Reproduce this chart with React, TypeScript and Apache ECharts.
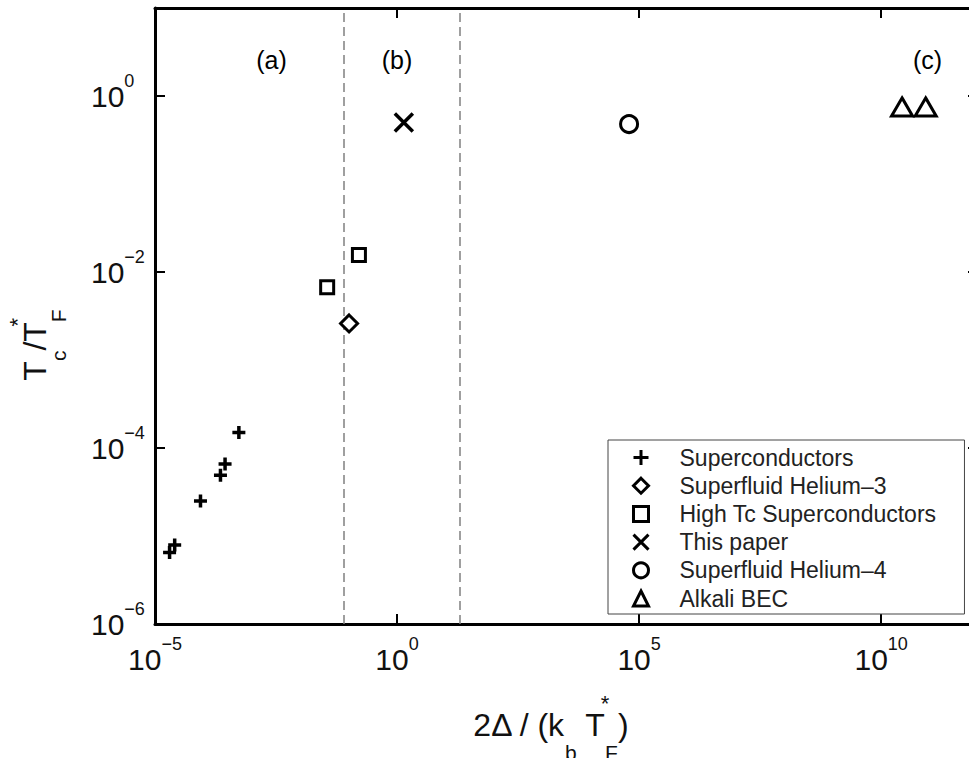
import React, { useEffect, useRef } from "react";
import * as echarts from "echarts";

// ---- data ----
const seriesNames = [
  "Superconductors",
  "Superfluid Helium\u20133",
  "High Tc Superconductors",
  "This paper",
  "Superfluid Helium\u20134",
  "Alkali BEC",
];
const superconductorsX = [5.4e-4, 2.8e-4, 2.25e-4, 8.7e-5, 2.55e-5, 2.0e-5];
const superconductorsY = [1.5e-4, 6.6e-5, 4.9e-5, 2.5e-5, 7.9e-6, 6.5e-6];
const helium3X = [0.102];
const helium3Y = [2.6e-3];
const highTcX = [0.163, 0.036];
const highTcY = [0.0156, 6.7e-3];
const thisPaperX = [1.38];
const thisPaperY = [0.5];
const helium4X = [6.2e4];
const helium4Y = [0.48];
const alkaliX = [2.7e10, 8.3e10];
const alkaliY = [0.75, 0.75];
const regionBoundariesX = [0.08, 20];
const panelLabels = ["(a)", "(b)", "(c)"];
const panelLabelX = [2.55e-3, 1.0, 9.1e10];
const panelLabelY = [2.57, 2.57, 2.57];
const xTickExponents = [-5, 0, 5, 10];
const yTickExponents = [-6, -4, -2, 0];

const FONT = "'Liberation Sans', Arial, Helvetica, sans-serif";
const INK = "#111";

const expLabel = (allowed: number[]) => (v: number) => {
  const e = Math.round(Math.log10(v));
  if (allowed.indexOf(e) < 0) return "";
  return `{b|10}{s|${e < 0 ? "\u2212" + -e : String(e)}}`;
};

const tickRich = {
  b: { fontFamily: FONT, fontSize: 30, lineHeight: 30, color: INK, verticalAlign: "middle" },
  s: { fontFamily: FONT, fontSize: 18, lineHeight: 18, color: INK, verticalAlign: "middle", padding: [0, 0, 30, 0] },
};

const titleRich = (sub: number, star: number) => ({
  m: { fontFamily: FONT, fontSize: 32, lineHeight: 32, color: INK, verticalAlign: "middle" },
  sub: { fontFamily: FONT, fontSize: 21, lineHeight: 21, color: INK, verticalAlign: "middle", padding: [sub, 0, 0, 0] },
  star: { fontFamily: FONT, fontSize: 22, lineHeight: 22, color: INK, verticalAlign: "middle", width: 0, padding: [0, 0, star, 0] },
});

const PLUS = "path://M5,0L5,10M0,5L10,5";
const CROSS = "path://M0,0L10,10M10,0L0,10";

const axisLineStyle = { color: "#000", width: 3 };
const tickStyle = { show: true, inside: true, length: 10, lineStyle: { color: "#000", width: 2 } };

function scatter(name: string, xs: number[], ys: number[], symbol: string, size: any, bw = 3) {
  return {
    type: "scatter",
    name,
    data: xs.map((x, i) => [x, ys[i]]),
    symbol,
    symbolSize: size,
    itemStyle: { color: "#fff", borderColor: "#000", borderWidth: bw, opacity: 1 },
    emphasis: { disabled: true },
    silent: true,
    z: 5,
  };
}

export default function App() {
  const ref = useRef<HTMLDivElement>(null);
  useEffect(() => {
    if (!ref.current) return;
    const chart = echarts.init(ref.current, undefined, { renderer: "svg" });
    const xCommon = {
      type: "log",
      logBase: 10,
      min: 1e-5,
      max: 1e12,
      interval: 5,
      axisLine: { show: true, lineStyle: axisLineStyle },
      axisTick: tickStyle,
      minorTick: { show: false },
      splitLine: { show: false },
    };
    const yCommon = {
      type: "log",
      logBase: 10,
      min: 1e-6,
      max: 10,
      interval: 2,
      axisLine: { show: true, lineStyle: axisLineStyle },
      axisTick: tickStyle,
      minorTick: { show: false },
      splitLine: { show: false },
    };
    chart.setOption({
      animation: false,
      backgroundColor: "#fff",
      grid: { left: 155, top: 8, right: -9, bottom: 134, containLabel: false, outerBoundsMode: "none" },
      xAxis: [
        {
          ...xCommon,
          position: "bottom",
          axisLabel: { show: true, margin: 20, formatter: expLabel(xTickExponents), rich: tickRich },
          name: "{m|2\u0394 / (k}{sub|b}{m| T}{star|*}{sub|F}{m|)}",
          nameLocation: "middle",
          nameGap: 67,
          nameTextStyle: { rich: titleRich(54, 44), padding: [0, 32, 0, 0] },
        },
        { ...xCommon, position: "top", axisLabel: { show: false } },
      ],
      yAxis: [
        {
          ...yCommon,
          position: "left",
          axisLabel: { show: true, margin: 64, align: "left", formatter: expLabel(yTickExponents), rich: tickRich },
          name: "{m|T}{sub|c}{m|/T}{star|*}{sub|F}",
          nameLocation: "middle",
          nameRotate: 90,
          nameGap: 104,
          nameTextStyle: { rich: titleRich(46, 36), padding: [0, 58, 0, 0] },
        },
        { ...yCommon, position: "right", axisLabel: { show: false } },
      ],
      legend: {
        data: seriesNames,
        orient: "vertical",
        left: 608,
        top: 440,
        padding: [6, 28, 4, 24],
        itemWidth: 15,
        itemHeight: 15,
        itemGap: 5.2,
        backgroundColor: "#fff",
        borderColor: "#444",
        borderWidth: 1,
        selectedMode: false,
        textStyle: { fontFamily: FONT, fontSize: 23, lineHeight: 23, color: "#222", padding: [0, 0, 0, 26] },
        itemStyle: { color: "#fff", borderColor: "#000", borderWidth: 3 },
        z: 10,
      },
      series: [
        {
          type: "scatter",
          name: "boundaries",
          data: [],
          silent: true,
          z: 1,
          markLine: {
            silent: true,
            symbol: ["none", "none"],
            label: { show: false },
            lineStyle: { color: "#808080", width: 1.5, type: [9, 5] },
            emphasis: { disabled: true },
            data: regionBoundariesX.map((x) => ({ xAxis: x })),
          },
        },
        {
          type: "scatter",
          name: "panels",
          data: panelLabelX.map((x, i) => [x, panelLabelY[i], panelLabels[i]]),
          symbolSize: 1,
          itemStyle: { color: "rgba(0,0,0,0)", opacity: 1 },
          silent: true,
          label: {
            show: true,
            position: "inside",
            formatter: (p: any) => p.value[2],
            fontFamily: FONT,
            fontSize: 25,
            color: "#000",
            opacity: 1,
          },
          z: 4,
        },
        scatter(seriesNames[0], superconductorsX, superconductorsY, PLUS, 13, 3.5),
        scatter(seriesNames[1], helium3X, helium3Y, "diamond", 17, 3),
        scatter(seriesNames[2], highTcX, highTcY, "rect", 13, 3),
        scatter(seriesNames[3], thisPaperX, thisPaperY, CROSS, 18, 3.5),
        scatter(seriesNames[4], helium4X, helium4Y, "circle", 17, 3),
        scatter(seriesNames[5], alkaliX, alkaliY, "triangle", [21, 18], 3),
      ],
    });
    return () => chart.dispose();
  }, []);
  return (
    <div
      ref={ref}
      style={{ position: "absolute", left: 0, top: 0, width: 969, height: 758, background: "#fff" }}
    />
  );
}
